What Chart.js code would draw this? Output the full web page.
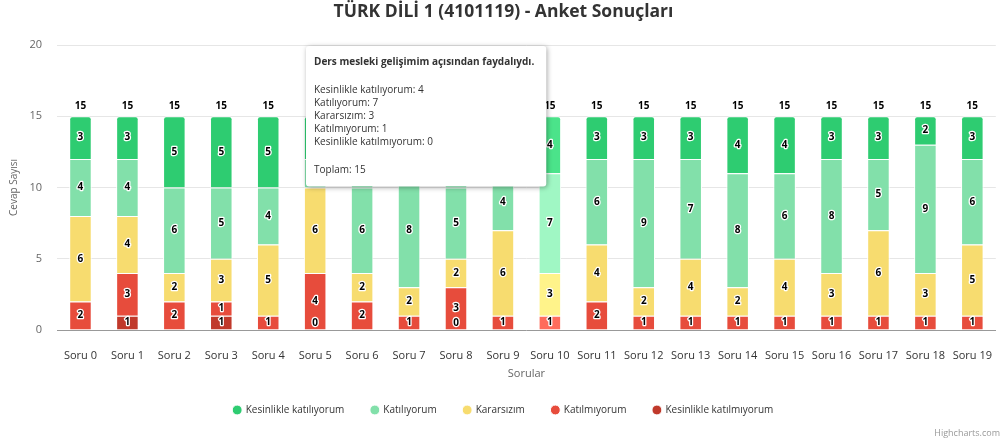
<!DOCTYPE html>
<html>
<head>
<meta charset="utf-8">
<script src="https://cdn.jsdelivr.net/npm/chart.js@4/dist/chart.umd.min.js"></script>
<style>
  html, body { margin: 0; padding: 0; background: #fff; }
  #wrap { width: 1003px; height: 444px; }
</style>
</head>
<body>
<div id="wrap"><canvas id="anket_chart"></canvas></div>
<script>
var categories = ["Soru 0", "Soru 1", "Soru 2", "Soru 3", "Soru 4", "Soru 5", "Soru 6", "Soru 7", "Soru 8", "Soru 9",
    "Soru 10", "Soru 11", "Soru 12", "Soru 13", "Soru 14", "Soru 15", "Soru 16", "Soru 17", "Soru 18", "Soru 19"];

// bottom to top of each stack
var kesinlikleKatilmiyorum = [0, 1, 0, 1, 0, 0, 0, 0, 0, 0, 0, 0, 0, 0, 0, 0, 0, 0, 0, 0];
var katilmiyorum           = [2, 3, 2, 1, 1, 4, 2, 1, 3, 1, 1, 2, 1, 1, 1, 1, 1, 1, 1, 1];
var kararsizim             = [6, 4, 2, 3, 5, 6, 2, 2, 2, 6, 3, 4, 2, 4, 2, 4, 3, 6, 3, 5];
var katiliyorum            = [4, 4, 6, 5, 4, 2, 6, 8, 5, 4, 7, 6, 9, 7, 8, 6, 8, 5, 9, 6];
var kesinlikleKatiliyorum  = [3, 3, 5, 5, 5, 3, 5, 4, 5, 4, 4, 3, 3, 3, 4, 4, 3, 3, 2, 3];

var yTicks = [0, 5, 10, 15, 20];
var hoverIndex = 10;
var hoverQuestion = "Ders mesleki gelişimim açısından faydalıydı.";

var FONT = "'Open Sans', 'Noto Sans', sans-serif";

// data labels inside segments + stack totals
var labelPlugin = {
    id: 'labels',
    afterDatasetsDraw: function (chart) {
        var ctx = chart.ctx;
        ctx.save();
        ctx.font = 'bold 10px ' + FONT;
        ctx.textAlign = 'center';
        ctx.textBaseline = 'middle';
        ctx.lineJoin = 'round';
        ctx.lineWidth = 2.5;
        ctx.strokeStyle = '#fff';
        ctx.fillStyle = '#000';
        function put(txt, x, y) {
            ctx.strokeText(txt, x, y);
            ctx.fillText(txt, x, y);
        }
        var n = chart.data.labels.length;
        for (var i = 0; i < n; i++) {
            var items = [];
            var total = 0, topY = null, x = null;
            chart.data.datasets.forEach(function (ds, d) {
                var bar = chart.getDatasetMeta(d).data[i];
                var v = ds.data[i];
                total += v;
                x = bar.x;
                topY = topY === null ? bar.y : Math.min(topY, bar.y);
                items.push({ v: v, y: v > 0 ? (bar.y + bar.base) / 2 : bar.base - 7 });
            });
            items.forEach(function (it) {
                if (it.v === 0) {
                    var clash = items.some(function (o) { return o.v > 0 && Math.abs(o.y - it.y) < 13; });
                    if (clash) return;
                }
                put(String(it.v), x, it.y);
            });
            put(String(total), x, topY - 10);
        }
        ctx.restore();
    },
    beforeTooltipDraw: function (chart, args) {
        var t = args.tooltip;
        if (!t.opacity) return;
        var ctx = chart.ctx;
        ctx.save();
        ctx.shadowColor = 'rgba(0,0,0,0.35)';
        ctx.shadowBlur = 5;
        ctx.shadowOffsetX = 1;
        ctx.shadowOffsetY = 1;
        ctx.fillStyle = '#fff';
        ctx.beginPath();
        ctx.roundRect(t.x, t.y, t.width, t.height, 3);
        ctx.fill();
        ctx.restore();
    },
    afterDraw: function (chart) {
        var ctx = chart.ctx;
        ctx.save();
        ctx.font = '9px ' + FONT;
        ctx.fillStyle = '#999';
        ctx.textAlign = 'right';
        ctx.textBaseline = 'middle';
        ctx.fillText('Highcharts.com', chart.width - 3, chart.height - 11);
        ctx.restore();
    }
};

Chart.Tooltip.positioners.fixedBox = function () {
    return { x: 309, y: 46, xAlign: 'left', yAlign: 'top' };
};

function makeSet(label, data, color, hover) {
    return {
        label: label,
        data: data,
        backgroundColor: color,
        hoverBackgroundColor: hover,
        borderColor: '#fff',
        hoverBorderColor: '#fff',
        borderWidth: 1,
        borderRadius: 3,
        barPercentage: 0.48,
        categoryPercentage: 1
    };
}

var chart = new Chart(document.getElementById('anket_chart').getContext('2d'), {
    type: 'bar',
    data: {
        labels: categories,
        datasets: [
            makeSet('Kesinlikle katılmıyorum', kesinlikleKatilmiyorum, '#c0392b', '#e0493b'),
            makeSet('Katılmıyorum', katilmiyorum, '#e74c3c', '#ff6c5c'),
            makeSet('Kararsızım', kararsizim, '#f7dc6f', '#fff38a'),
            makeSet('Katılıyorum', katiliyorum, '#82e0aa', '#a0f7c4'),
            makeSet('Kesinlikle katılıyorum', kesinlikleKatiliyorum, '#2ecc71', '#4be38a')
        ]
    },
    plugins: [labelPlugin],
    options: {
        responsive: true,
        maintainAspectRatio: false,
        animation: false,
        events: [],
        layout: { padding: { left: 4, right: 0, top: 0, bottom: 19 } },
        scales: {
            x: {
                stacked: true,
                grid: { display: false },
                border: { display: true, color: '#999', width: 1 },
                ticks: { color: '#333', font: { family: FONT, size: 11 }, padding: 11 },
                title: { display: true, text: 'Sorular', color: '#666', font: { family: FONT, size: 11 }, padding: { top: 0, bottom: -2 } },
                afterFit: function (scale) { scale.height = 48; }
            },
            y: {
                stacked: true,
                min: 0,
                max: 20,
                afterBuildTicks: function (axis) {
                    axis.ticks = yTicks.map(function (v) { return { value: v }; });
                },
                grid: { color: '#e6e6e6', drawTicks: false },
                border: { display: false },
                ticks: { color: '#666', font: { family: FONT, size: 11 }, padding: 15 },
                title: { display: true, text: 'Cevap Sayısı', color: '#666', font: { family: FONT, size: 10 }, padding: { bottom: 4 } },
                afterFit: function (scale) { scale.width = 53; }
            }
        },
        plugins: {
            title: {
                display: true,
                text: 'TÜRK DİLİ 1 (4101119) - Anket Sonuçları',
                color: '#333',
                font: { family: FONT, size: 17.5, weight: 'bold' },
                padding: { top: 2, bottom: 22 }
            },
            legend: {
                position: 'bottom',
                reverse: true,
                labels: {
                    usePointStyle: true,
                    pointStyle: 'circle',
                    boxWidth: 7,
                    boxHeight: 7,
                    padding: 27,
                    color: '#333',
                    font: { family: FONT, size: 10 }
                }
            },
            tooltip: {
                enabled: true,
                position: 'fixedBox',
                backgroundColor: 'rgba(255,255,255,0)',
                borderColor: 'rgba(0,0,0,0)',
                borderWidth: 0,
                caretSize: 0,
                caretPadding: 0,
                cornerRadius: 3,
                displayColors: false,
                padding: { left: 8, right: 12, top: 10, bottom: 10 },
                titleColor: '#333',
                bodyColor: '#333',
                footerColor: '#333',
                titleFont: { family: FONT, size: 10, weight: 'bold', lineHeight: 1.32 },
                bodyFont: { family: FONT, size: 10, lineHeight: 1.32 },
                footerFont: { family: FONT, size: 10, weight: 'normal', lineHeight: 1.32 },
                titleMarginBottom: 14,
                footerMarginTop: 14,
                bodySpacing: 0,
                itemSort: function (a, b) { return b.datasetIndex - a.datasetIndex; },
                callbacks: {
                    title: function () { return hoverQuestion; },
                    label: function (item) { return item.dataset.label + ': ' + item.raw; },
                    footer: function (items) {
                        var s = 0;
                        items.forEach(function (it) { s += it.raw; });
                        return 'Toplam: ' + s;
                    }
                }
            }
        }
    }
});

var active = chart.data.datasets.map(function (ds, d) { return { datasetIndex: d, index: hoverIndex }; });
chart.setActiveElements(active);
chart.tooltip.setActiveElements(active, { x: 0, y: 0 });
chart.update();
</script>
</body>
</html>
